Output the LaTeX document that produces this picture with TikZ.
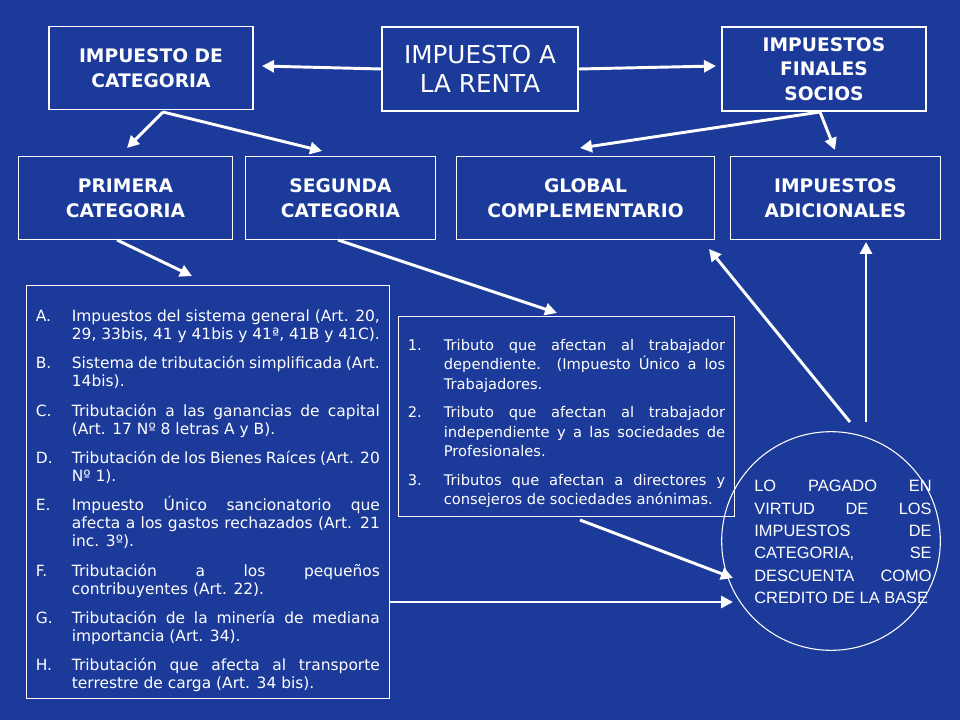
\documentclass[tikz,border=0pt]{standalone}
\usepackage{fontspec}
\setmainfont{DejaVu Sans}
\newfontfamily\lib{Liberation Sans}
\usetikzlibrary{arrows.meta}
\definecolor{bg}{HTML}{1C3A9A}
\newcommand{\itm}[2]{\par\hangindent=27pt\hangafter=1\noindent\makebox[27pt][l]{#1}#2\par}
\tikzset{
 box/.style={draw=white,line width=0.8pt,text=white,font=\bfseries\fontsize{14}{18.5}\selectfont,align=center,inner sep=0pt},
 lst/.style={draw=white,line width=0.8pt,text=white,align=justify,anchor=north west,inner sep=0pt},
 arr/.style={white,line width=2.2pt,-{Triangle[length=9pt,width=9pt]}}
}
\begin{document}
\begin{tikzpicture}[x=0.75pt,y=-0.75pt]
\fill[bg] (0,0) rectangle (960,720);
\useasboundingbox (0,0) rectangle (960,720);
\node[box,minimum width=153pt,minimum height=62pt] (cat) at (151,68) {IMPUESTO DE\\CATEGORIA};
\node[box,minimum width=147pt,minimum height=63pt,font=\fontsize{18.5}{22}\selectfont] (renta) at (480,69) {IMPUESTO A\\LA RENTA};
\node[box,minimum width=153pt,minimum height=63pt] (fin) at (824,69) {IMPUESTOS\\FINALES\\SOCIOS};
\node[box,minimum width=160pt,minimum height=62pt] (pri) at (125.5,198) {PRIMERA\\CATEGORIA};
\node[box,minimum width=142pt,minimum height=62pt] (seg) at (340.5,198) {SEGUNDA\\CATEGORIA};
\node[box,minimum width=193pt,minimum height=62pt] (glo) at (585.5,198) {GLOBAL\\COMPLEMENTARIO};
\node[box,minimum width=158pt,minimum height=62pt] (adi) at (835.5,198) {IMPUESTOS\\ADICIONALES};
\node[lst,text width=258pt,inner xsep=7pt,inner ysep=5pt,font=\fontsize{11.6}{13.5}\selectfont] (la) at (26,285) {\hyphenchar\font=-1\parskip=8.5pt
\itm{A.}{Impuestos del sistema general (Art. 20, 29, 33bis, 41 y 41bis y 41ª, 41B y 41C).}
\itm{B.}{Sistema de tributación simplificada (Art. 14bis).}
\itm{C.}{Tributación a las ganancias de capital (Art. 17 Nº 8 letras A y B).}
\itm{D.}{Tributación de los Bienes Raíces (Art. 20 Nº 1).}
\itm{E.}{Impuesto Único sancionatorio que afecta a los gastos rechazados (Art. 21 inc. 3º).}
\itm{F.}{Tributación a los pequeños contribuyentes (Art. 22).}
\itm{G.}{Tributación de la minería de mediana importancia (Art. 34).}
\itm{H.}{Tributación que afecta al transporte terrestre de carga (Art. 34 bis).}};
\node[lst,text width=238pt,inner xsep=7pt,inner ysep=4pt,font=\fontsize{11}{14.5}\selectfont] (lm) at (398,316) {\hyphenchar\font=-1\parskip=7pt
\itm{1.}{Tributo que afectan al trabajador dependiente. (Impuesto Único a los Trabajadores.}
\itm{2.}{Tributo que afectan al trabajador independiente y a las sociedades de Profesionales.}
\itm{3.}{Tributos que afectan a directores y consejeros de sociedades anónimas.}\vspace{3pt}};
\node[draw=white,line width=0.8pt,circle,minimum size=164pt,inner sep=0pt] (circ) at (831,541) {};
\node[text=white,font=\lib\fontsize{12.3}{16.8}\selectfont,text width=133pt,align=justify] (ct) at (843,542) {\hyphenchar\font=-1 LO PAGADO EN VIRTUD DE LOS IMPUESTOS DE CATEGORIA, SE DESCUENTA COMO CREDITO DE LA BASE};
% arrows
\coordinate (c1) at (163,112); \coordinate (c2) at (820,112);
\coordinate (e1) at (127,148); \coordinate (e2) at (322,151);
\coordinate (e3) at (580,148); \coordinate (e4) at (835,150);
\draw[arr] (renta.west) -- (262,66) coordinate (e0);
\draw[arr] (renta.east) -- (716,66) coordinate (e5);
\draw[arr] (c1) -- (e1); \draw[arr] (c1) -- (e2);
\draw[arr] (c2) -- (e3); \draw[arr] (c2) -- (e4);
\coordinate (p1) at (117,240); \coordinate (q1) at (192,276);
\draw[arr] (p1) -- (q1);
\coordinate (p2) at (338,240); \coordinate (q2) at (557,313);
\draw[arr] (p2) -- (q2);
\coordinate (p3) at (580,520); \coordinate (q3) at (733,578);
\draw[arr] (p3) -- (q3);
\coordinate (p4) at (390,602); \coordinate (q4) at (733,602);
\draw[arr] (p4) -- (q4);
\coordinate (p5) at (850,422); \coordinate (q5) at (709,249);
\draw[arr] (p5) -- (q5);
\coordinate (p6) at (866,422); \coordinate (q6) at (866,242);
\draw[arr] (p6) -- (q6);
\end{tikzpicture}
\end{document}
